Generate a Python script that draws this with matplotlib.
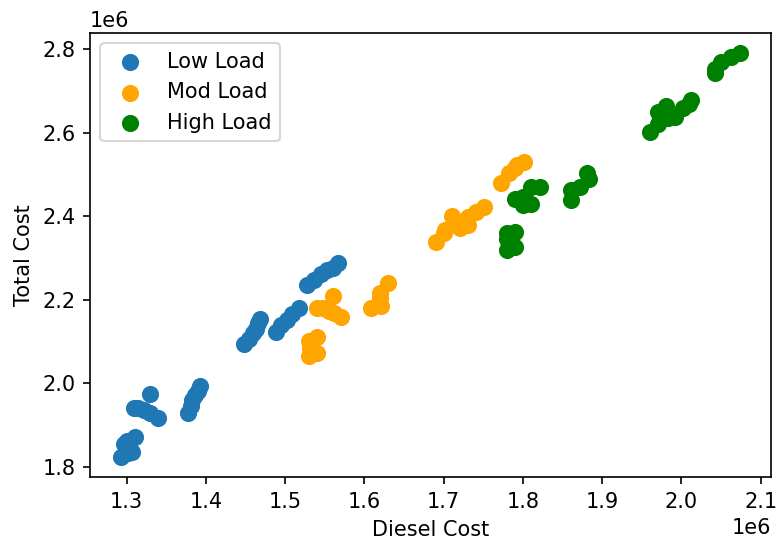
import numpy as np
import matplotlib
matplotlib.use('Agg')
import matplotlib.pyplot as plt

# valores em milhoes
low_diesel = [1.293, 1.297, 1.300, 1.302, 1.307, 1.311,
              1.309, 1.315, 1.322, 1.330, 1.340, 1.330,
              1.378, 1.381, 1.383, 1.386, 1.390, 1.393,
              1.448, 1.454, 1.459, 1.463, 1.466, 1.469,
              1.489, 1.495, 1.503, 1.509, 1.517,
              1.528, 1.537, 1.545, 1.553, 1.560, 1.567]
low_total = [1.824, 1.855, 1.862, 1.833, 1.836, 1.871,
             1.941, 1.940, 1.937, 1.930, 1.918, 1.975,
             1.930, 1.946, 1.960, 1.972, 1.982, 1.993,
             2.095, 2.107, 2.120, 2.131, 2.145, 2.155,
             2.123, 2.140, 2.152, 2.165, 2.180,
             2.235, 2.248, 2.262, 2.270, 2.277, 2.287]

mod_diesel = [1.530, 1.531, 1.530, 1.540, 1.540, 1.533,
              1.540, 1.548, 1.556, 1.562, 1.571, 1.561,
              1.609, 1.621, 1.620, 1.620, 1.630,
              1.691, 1.700, 1.702, 1.710, 1.721, 1.731, 1.731, 1.741, 1.751,
              1.772, 1.782, 1.790, 1.793, 1.802]
mod_total = [2.065, 2.085, 2.100, 2.072, 2.110, 2.095,
             2.179, 2.180, 2.172, 2.168, 2.158, 2.210,
             2.179, 2.186, 2.205, 2.217, 2.239,
             2.337, 2.360, 2.366, 2.400, 2.371, 2.378, 2.397, 2.409, 2.421,
             2.479, 2.503, 2.515, 2.522, 2.529]

high_diesel = [1.780, 1.780, 1.780, 1.790, 1.790,
               1.790, 1.800, 1.800, 1.810, 1.810, 1.822,
               1.861, 1.861, 1.872, 1.883, 1.881,
               1.961, 1.970, 1.973, 1.971, 1.981, 1.983, 1.980, 1.992, 2.002, 2.010, 2.012,
               2.043, 2.043, 2.050, 2.062, 2.074]
high_total = [2.318, 2.345, 2.359, 2.361, 2.327,
              2.440, 2.445, 2.426, 2.428, 2.469, 2.469,
              2.438, 2.462, 2.469, 2.490, 2.503,
              2.601, 2.620, 2.630, 2.649, 2.663, 2.635, 2.645, 2.637, 2.659, 2.668, 2.678,
              2.742, 2.752, 2.769, 2.781, 2.790]

fig = plt.figure(figsize=(779/150, 540/150), dpi=150)
ax = fig.add_axes([90/779, 63/540, 681/779, 444/540])

ax.scatter(np.array(low_diesel)*1e6, np.array(low_total)*1e6, color='#1f77b4', s=52, label='Low Load')
ax.scatter(np.array(mod_diesel)*1e6, np.array(mod_total)*1e6, color='orange', s=52, label='Mod Load')
ax.scatter(np.array(high_diesel)*1e6, np.array(high_total)*1e6, color='green', s=52, label='High Load')

ax.set_xlabel('Diesel Cost')
ax.set_ylabel('Total Cost')
ax.legend(loc='upper left')

fig.savefig('out.png', dpi=150)
